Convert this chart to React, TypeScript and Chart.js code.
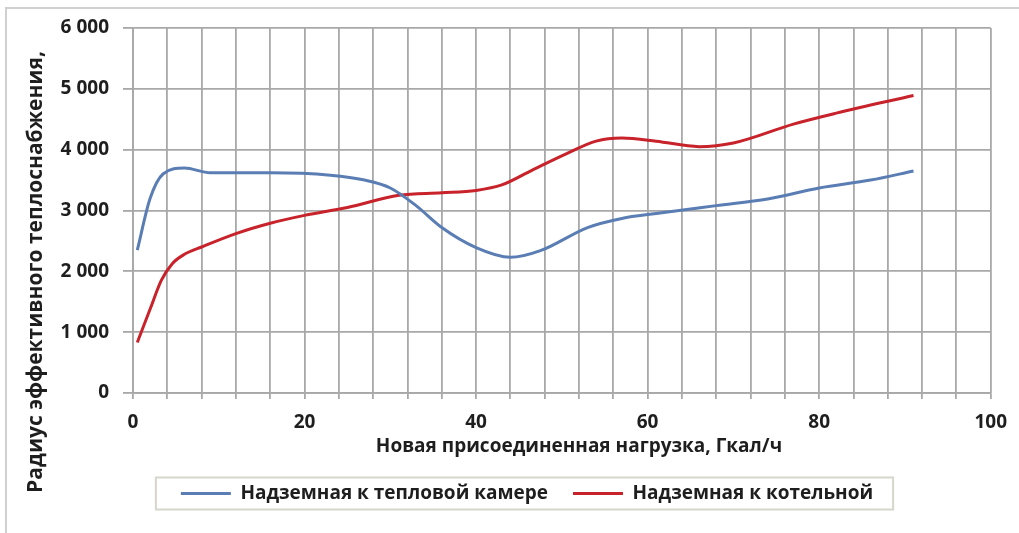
import React, { useEffect, useRef } from 'react';
import { Chart, registerables } from 'chart.js';

Chart.register(...registerables);

// ---- data ----
const seriesNames = ['Надземная к тепловой камере', 'Надземная к котельной'];

const blueX = [0.5, 2, 3.5, 6, 9, 16, 23, 27, 30, 33, 36, 40, 44, 47.5, 53, 57, 61, 68, 74, 80, 86, 91];
const blueY = [2350, 3200, 3600, 3700, 3620, 3620, 3580, 3500, 3370, 3080, 2720, 2390, 2230, 2340, 2720, 2870, 2950, 3080, 3190, 3370, 3500, 3650];

const redX = [0.5, 2, 3.3, 4.6, 6, 8, 12, 16, 20, 25, 31, 36, 40, 43, 46.5, 50.5, 54, 57, 61, 66, 70, 77, 82, 91];
const redY = [830, 1380, 1850, 2130, 2280, 2400, 2620, 2790, 2920, 3050, 3250, 3290, 3330, 3420, 3660, 3930, 4140, 4190, 4140, 4050, 4110, 4420, 4600, 4890];

const xTickValues = [0, 20, 40, 60, 80, 100];
const xTickLabels = ['0', '20', '40', '60', '80', '100'];
const yTickValues = [0, 1000, 2000, 3000, 4000, 5000, 6000];
const yTickLabels = ['0', '1 000', '2 000', '3 000', '4 000', '5 000', '6 000'];

const xTitle = 'Новая присоединенная нагрузка, Гкал/ч';
const yTitle = 'Радиус эффективного теплоснабжения,';

// ---- styles ----
const FONT = "'Open Sans', 'DejaVu Sans', sans-serif";
const TEXT = '#1e1e1e';
const GRID = '#a8a8a8';
const BLUE = '#5a7db4';
const RED = '#c8222b';

const titlesPlugin = {
  id: 'titlesPlugin',
  afterDraw(chart: any) {
    const ctx = chart.ctx;
    ctx.save();
    ctx.fillStyle = TEXT;
    ctx.textAlign = 'center';
    ctx.textBaseline = 'middle';
    ctx.font = `bold 19px ${FONT}`;
    ctx.fillText(xTitle, 579, 447);
    ctx.translate(36, 272);
    ctx.rotate(-Math.PI / 2);
    ctx.font = `bold 21px ${FONT}`;
    ctx.fillText(yTitle, 0, 0);
    ctx.restore();
  },
};

const legendFramePlugin = {
  id: 'legendFramePlugin',
  afterDraw(chart: any) {
    const lg = chart.legend;
    const boxes = lg && lg.legendHitBoxes;
    if (!boxes || !boxes.length) return;
    const first = boxes[0];
    const last = boxes[boxes.length - 1];
    const x0 = first.left - 25;
    const x1 = last.left + last.width + 20;
    const cy = first.top + first.height / 2;
    const ctx = chart.ctx;
    ctx.save();
    ctx.strokeStyle = '#d6d6cc';
    ctx.lineWidth = 2;
    ctx.strokeRect(x0, cy - 16, x1 - x0, 32);
    ctx.restore();
  },
};

export default function App() {
  const canvasRef = useRef<HTMLCanvasElement | null>(null);

  useEffect(() => {
    let chart: Chart | null = null;
    let cancelled = false;

    const build = () => {
      if (cancelled || !canvasRef.current) return;
      chart = new Chart(canvasRef.current, {
        type: 'line',
        data: {
          datasets: [
            {
              label: seriesNames[0],
              data: blueX.map((x, i) => ({ x, y: blueY[i] })),
              borderColor: BLUE,
              backgroundColor: BLUE,
              borderWidth: 3,
              pointRadius: 0,
              cubicInterpolationMode: 'monotone',
              fill: false,
            },
            {
              label: seriesNames[1],
              data: redX.map((x, i) => ({ x, y: redY[i] })),
              borderColor: RED,
              backgroundColor: RED,
              borderWidth: 3,
              pointRadius: 0,
              cubicInterpolationMode: 'monotone',
              fill: false,
            },
          ],
        },
        options: {
          animation: false,
          responsive: true,
          maintainAspectRatio: false,
          layout: { padding: { left: 60, right: 25, top: 28, bottom: 20 } },
          plugins: {
            tooltip: { enabled: false },
            legend: {
              display: true,
              position: 'bottom',
              labels: {
                usePointStyle: true,
                pointStyle: 'line',
                pointStyleWidth: 50,
                padding: 25,
                color: TEXT,
                font: { family: FONT, size: 19, weight: 'bold' },
              },
            },
          },
          scales: {
            x: {
              type: 'linear',
              min: 0,
              max: 100,
              afterFit(scale: any) {
                scale.height = 66;
              },
              ticks: {
                stepSize: 4,
                autoSkip: false,
                maxRotation: 0,
                padding: 12,
                color: TEXT,
                font: { family: FONT, size: 19, weight: 'bold' },
                callback(value: any) {
                  const i = xTickValues.indexOf(Number(value));
                  return i >= 0 ? xTickLabels[i] : '';
                },
              },
              grid: { color: GRID, lineWidth: 1.8, tickLength: 6 },
              border: { color: GRID, width: 1.8 },
            },
            y: {
              type: 'linear',
              min: 0,
              max: 6000,
              afterFit(scale: any) {
                scale.width = 73;
              },
              ticks: {
                stepSize: 1000,
                padding: 14,
                color: TEXT,
                font: { family: FONT, size: 19, weight: 'bold' },
                callback(value: any) {
                  const i = yTickValues.indexOf(Number(value));
                  return i >= 0 ? yTickLabels[i] : '';
                },
              },
              grid: { color: GRID, lineWidth: 1.8, tickLength: 10 },
              border: { color: GRID, width: 1.8 },
            },
          },
        },
        plugins: [titlesPlugin, legendFramePlugin],
      } as any);
    };

    const fontsReady = (document as any).fonts
      ? Promise.all([
          (document as any).fonts.load(`bold 19px 'Open Sans'`),
          (document as any).fonts.load(`bold 21px 'Open Sans'`),
        ]).catch(() => null)
      : Promise.resolve(null);
    fontsReady.then(build);

    return () => {
      cancelled = true;
      if (chart) chart.destroy();
    };
  }, []);

  return (
    <div
      style={{
        position: 'fixed',
        left: 0,
        top: 0,
        width: 1019,
        height: 533,
        background: '#ffffff',
      }}
    >
      <div
        style={{
          position: 'absolute',
          left: 5,
          top: 7,
          right: 0,
          bottom: 0,
          borderTop: '2px solid #d0d0d0',
          borderLeft: '2px solid #d0d0d0',
        }}
      />
      <canvas ref={canvasRef} style={{ position: 'absolute', left: 0, top: 0 }} />
    </div>
  );
}
